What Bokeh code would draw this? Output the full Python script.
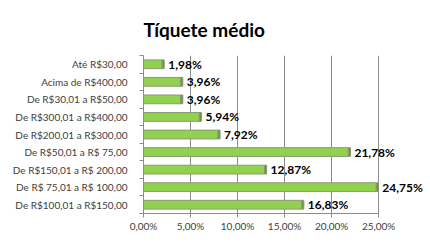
from bokeh.plotting import figure
from bokeh.models import Range1d, FixedTicker, ColumnDataSource, LabelSet
from bokeh.core.properties import value
from bokeh.embed import file_html
from bokeh.resources import INLINE

title_text = "Tíquete médio"
categories = [
    "Até R$30,00",
    "Acima de R$400,00",
    "De R$30,01 a R$50,00",
    "De R$300,01 a R$400,00",
    "De R$200,01 a R$300,00",
    "De R$50,01 a R$ 75,00",
    "De R$150,01 a R$ 200,00",
    "De R$ 75,01 a R$ 100,00",
    "De R$100,01 a R$150,00",
]
values = [1.98, 3.96, 3.96, 5.94, 7.92, 21.78, 12.87, 24.75, 16.83]
x_ticks = [0, 5, 10, 15, 20, 25]
x_tick_labels = ["0,00%", "5,00%", "10,00%", "15,00%", "20,00%", "25,00%"]

n = len(categories)
ypos = [n - 1 - i for i in range(n)]
labels = [f"{v:.2f}".replace(".", ",") + "%" for v in values]
caps = [v + 0.22 for v in values]
src = ColumnDataSource(dict(y=ypos, v=values, cap=caps, lbl=labels))

p = figure(width=430, height=243, output_backend="svg", toolbar_location=None,
           x_range=Range1d(0, 30.3), y_range=Range1d(-0.5, n - 0.5),
           min_border_left=143, min_border_right=2, min_border_top=50,
           min_border_bottom=30)
p.outline_line_color = None
p.background_fill_color = "white"
p.border_fill_color = "white"

p.title.text = title_text
p.title.align = "left"
p.title.offset = 0
p.title.standoff = 30
p.title.text_font = "Lato"
p.title.text_font_size = "19px"
p.title.text_font_style = "bold"
p.title.text_color = "#000000"

# gridlines
p.ygrid.grid_line_color = None
p.xgrid.ticker = FixedTicker(ticks=x_ticks)
p.xgrid.grid_line_color = "#8c8c8c"
p.xgrid.grid_line_width = 1

# x axis
xa = p.xaxis[0]
xa.ticker = FixedTicker(ticks=x_ticks)
xa.major_label_overrides = {t: l for t, l in zip(x_ticks, x_tick_labels)}
xa.bounds = (0, 25)
xa.axis_line_color = "#8c8c8c"
xa.major_tick_line_color = "#8c8c8c"
xa.major_tick_out = 4
xa.major_tick_in = 0
xa.minor_tick_line_color = None
xa.major_label_text_font = "Lato"
xa.major_label_text_font_size = "10px"
xa.major_label_text_color = "#404040"
xa.major_label_standoff = 2

# y axis
ya = p.yaxis[0]
ya.ticker = FixedTicker(ticks=ypos, minor_ticks=[k - 0.5 for k in range(n + 1)])
ya.major_label_overrides = {y: c for y, c in zip(ypos, categories)}
ya.axis_line_color = "#8c8c8c"
ya.major_tick_line_color = None
ya.minor_tick_line_color = "#8c8c8c"
ya.minor_tick_out = 4
ya.minor_tick_in = 0
ya.major_label_text_font = "Lato"
ya.major_label_text_font_size = "10px"
ya.major_label_text_color = "#404040"
ya.major_label_standoff = 10

p.hbar(y="y", left=0, right="v", height=0.5, source=src,
       fill_color="#92D050", line_color="#8a9a70", line_width=1)
p.hbar(y="y", left="v", right="cap", height=0.5, source=src,
       fill_color="#6f8f45", line_color="#8a9a70", line_width=1)

lbls = LabelSet(x="cap", y="y", text="lbl", source=src, x_offset=4,
                text_baseline="middle", text_font=value("Lato"),
                text_font_size=value("12px"), text_font_style="bold",
                text_color="#000000")
p.add_layout(lbls)

open("out.html", "w").write(file_html(p, INLINE))
